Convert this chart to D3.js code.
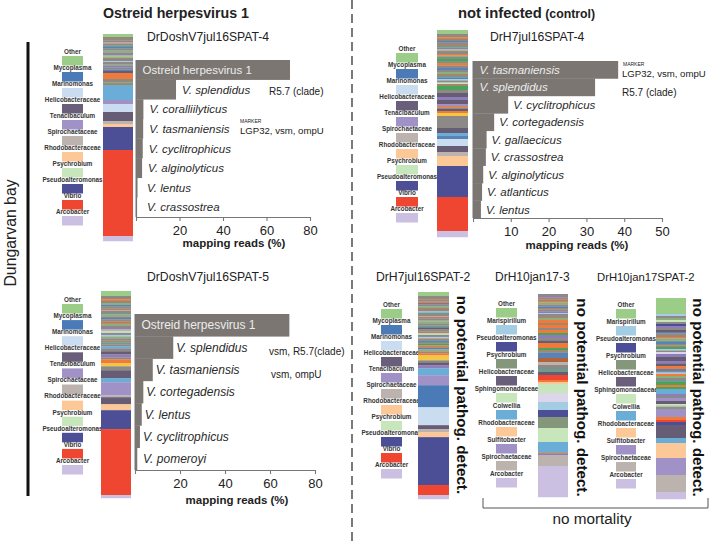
<!DOCTYPE html>
<html><head><meta charset="utf-8">
<script src="https://cdn.jsdelivr.net/npm/d3@7"></script>
<style>body{margin:0;background:#fff}svg{display:block}</style>
</head><body>
<svg id="c" width="709" height="544"></svg>
<script>
// ---------------- DATA ----------------
const p1Species = ["Ostreid herpesvirus 1","V. splendidus","V. coralliilyticus","V. tasmaniensis","V. cyclitrophicus","V. alginolyticus","V. lentus","V. crassostrea"];
const p1Reads = [70.8, 18.4, 3.4, 3.3, 3.1, 2.8, 0.7, 0.5];
const p2Species = ["V. tasmaniensis","V. splendidus","V. cyclitrophicus","V. cortegadensis","V. gallaecicus","V. crassostrea","V. alginolyticus","V. atlanticus","V. lentus"];
const p2Reads = [38.4, 32.3, 9.3, 5.6, 3.6, 3.4, 2.7, 2.4, 2.1];
const p3Species = ["Ostreid herpesvirus 1","V. splendidus","V. tasmaniensis","V. cortegadensis","V. lentus","V. cyclitrophicus","V. pomeroyi"];
const p3Reads = [68.6, 17.0, 7.9, 3.7, 3.0, 2.2, 1.0];
const ticks80 = [0, 20, 40, 60, 80];
const ticks50 = [0, 10, 20, 30, 40, 50];

const legendA = ["Other","Mycoplasma","Marinomonas","Helicobacteraceae","Tenacibaculum","Spirochaetaceae","Rhodobacteraceae","Psychrobium","Pseudoalteromonas","Vibrio","Arcobacter"];
const legendAColors = ["#9ccd88","#4b7bb6","#c9dcf0","#6a5f7b","#a092c6","#bcb3ae","#fdc898","#c8e6bb","#4c4e96","#ee4630","#cbc0e2"];
const legendB = ["Other","Marispirillum","Pseudoalteromonas","Psychrobium","Helicobacteraceae","Sphingomonadaceae","Colwellia","Rhodobacteraceae","Sulfitobacter","Spirochaetaceae","Arcobacter"];
const legendBColors = ["#9ccd88","#a3cde3","#4c4e96","#84977a","#6a5f7b","#c8e6bb","#6aaed8","#fdc898","#a092c6","#bcb3ae","#cbc0e2"];

// stacked community bars (top to bottom): colour keys and relative abundances
const bar1Keys = ["G","s","n","s","h","s","t","b","s","g","s","p","G","n","s","l","s","g","p","s","b","k","o","s","g","n","c","m","w","k","q","f","u","r","v"];
const bar1Vals = [3,2,1.5,2,1,2,1.5,1.5,2,2,1.5,1.5,2,1.5,2,1,2,1.5,2,2,1.5,2,6,3,1,2,15,4,8,9,3,3,23,86,5];
const bar2Keys = ["G","s","n","o","s","b","s","n","t","s","l","n","s","o","g","s","d","t","o","s","b","s","g","n","t","b","l","s","e","n","d","d","s","k","p","k","m","o","s","k","o","y","s","k","c","b","w","k","q","f","u","r","v"];
const bar2Vals = [4,2,1.5,1.5,2,1.5,1.5,2,1.5,2,1,1.5,2,1.5,1.5,2,2,2,2.5,2.5,2,2,2,2,1.5,1.5,1.5,2,1.5,2,2,2,3,4,3,4,2,1.5,1.5,2,2,3,12,5,3,3,7,6,4,10,31,34,6];
const bar3Keys = ["G","s","n","o","s","g","b","s","n","h","s","t","g","s","b","n","s","o","g","s","p","q","e","s","l","g","s","n","t","s","c","s","k","p","s","o","y","s","k","c","m","q","k","f","u","r","v"];
const bar3Vals = [5,2,1.5,1.5,2,2,1.5,2,1.5,1,2,1.5,2,1.5,1.5,2,1.5,1,2,2,1.5,2,1.5,2,1.5,2,2,2,2,2,2,3,3,3,2,4,3,4,8,4,13,2,7,6,19,66,3];
const bar4Keys = ["G","s","n","s","o","b","s","g","n","s","l","t","s","h","n","s","g","g","s","t","k","s","n","e","s","l","n","b","s","d","o","b","g","n","o","y","s","k","p","c","m","M","w","k","q","f","u","r","v"];
const bar4Vals = [4,2,1.5,2,1.5,1.5,2,1.5,2,1.5,1,1.5,2,1,1.5,2,1,2,2,2,2,2,2,1.5,2,1.5,2,1.5,1.5,2,2,2,2,2,2,5,2.5,2.5,3,7,10,22,18,4,3,5,48,10,4];
const bar5Keys = ["s","p","n","s","o","g","s","b","n","s","p","l","s","n","g","o","n","o","s","o","d","p","s","k","o","d","n","b","b","R","q","s","t","k","r","o","f","e","x","a","u","z","e","c","o","p","q","v"];
const bar5Vals = [2,1.5,2,1.5,1.5,2,2,1.5,1.5,2,1.5,1,2,2,2,3,2,3,2,3,2,3,2.5,2.5,5,2,2.5,2.5,3,4,3,4,3,3,5,2,2,9,9,8,7,11,14,11,1,1,11,31];
const bar6Keys = ["G","l","s","g","e","s","u","p","s","k","b","n","s","o","g","t","b","s","n","d","l","s","x","p","k","p","k","o","b","s","l","o","g","s","t","d","o","d","c","p","s","m","k","e","q","z","m","o","r","u","k","c","f","m","q","v"];
const bar6Vals = [16,2,2,2,2,2,2,2,2,2,1.5,1.5,2,1.5,2,1.5,2,1.5,1.5,2,1.5,1.5,2,3,4,2.5,2.5,3,2,1.5,1.5,2,2,2,2,3,2,2,5,2,2,3,3,1.5,1.5,2,8,3,2,3,13,5,15,17,17,7];

// ---------------- STYLE ----------------
const palette = {
  G:"#9ccd88", g:"#8fae80", d:"#4aa35a", s:"#8d8986", n:"#a2866e", o:"#f07a3a",
  b:"#5b82b5", l:"#a8cbe8", c:"#6aaed8", p:"#8e7db8", k:"#665d74", t:"#6f9a8e",
  y:"#f4c645", r:"#ee4630", q:"#bcb3ae", f:"#fdc898", w:"#c9dcf0", u:"#4c4e96",
  v:"#cbc0e2", m:"#a092c6", e:"#c8e6bb", z:"#84977a", h:"#d9a3a0", x:"#dcd6ea",
  a:"#a3cde3", M:"#4b7bb6", R:"#b0643c"
};
const FONT = "'Liberation Sans', Arial, Helvetica, sans-serif";
const BARC = "#7b7672";
const svg = d3.select("#c").style("font-family", FONT);

// ---------------- HELPERS ----------------
function legend(names, colors, x, y0, step, w) {
  const g = svg.append("g");
  const it = g.selectAll("g").data(names).join("g")
    .attr("transform", (d, i) => `translate(${x},${y0 + i * step})`);
  it.append("rect").attr("width", w).attr("height", 9.5)
    .attr("fill", (d, i) => colors[i]);
  it.append("text").attr("x", w / 2).attr("y", -2.2).attr("text-anchor", "middle")
    .attr("font-size", 6.3).attr("font-weight", "bold").attr("fill", "#333")
    .text(d => d);
}
function stackBar(keys, vals, x, w, y0, y1) {
  const cum = d3.cumsum(vals);
  const y = d3.scaleLinear().domain([0, cum[cum.length - 1]]).range([y0, y1]);
  const segs = vals.map((v, i) => ({k: keys[i], s: cum[i] - v, e: cum[i]}));
  svg.append("g").selectAll("rect").data(segs).join("rect")
    .attr("x", x).attr("width", w)
    .attr("y", d => y(d.s)).attr("height", d => y(d.e) - y(d.s) + 0.25)
    .attr("fill", d => palette[d.k]);
}
function barPanel(species, reads, o) {
  const g = svg.append("g");
  const x = d3.scaleLinear().domain([0, o.max]).range([o.x0, o.x1]);
  const y = d3.scaleBand().domain(species).range([o.yTop, o.yAxis]).padding(0);
  const data = species.map((s, i) => ({s, v: reads[i]}));
  g.selectAll("rect.bar").data(data).join("rect").attr("class", "bar")
    .attr("x", x(0)).attr("y", d => y(d.s))
    .attr("width", d => x(d.v) - x(0)).attr("height", y.bandwidth() + 0.3)
    .attr("fill", BARC);
  g.append("line").attr("x1", x(0)).attr("x2", x(0))
    .attr("y1", o.yTop).attr("y2", o.yAxis).attr("stroke", "#777").attr("stroke-width", 1);
  const ax = g.append("g").attr("transform", `translate(0,${o.yAxis})`)
    .call(d3.axisBottom(x).tickValues(o.ticks).tickFormat(d => d === 0 ? "" : d)
      .tickSize(4).tickSizeOuter(0).tickPadding(5));
  ax.selectAll("path,line").attr("stroke", "#777").attr("stroke-width", 1.1);
  ax.selectAll("text").attr("font-size", 13).attr("fill", "#222").attr("font-family", FONT);
  g.append("text").attr("x", o.axCx).attr("y", o.axTitleY).attr("text-anchor", "middle")
    .attr("font-size", 11.5).attr("font-weight", "bold").attr("fill", "#222")
    .text("mapping reads (%)");
  g.selectAll("text.sp").data(data).join("text").attr("class", "sp")
    .attr("x", d => (x(d.v) - x(0) > 115) ? x(0) + 6.5 : Math.max(x(d.v), x(0) + 5) + o.gap)
    .attr("y", d => y(d.s) + y.bandwidth() / 2 + 4.3)
    .attr("font-size", o.fs).attr("font-style", d => d.s.startsWith("V.") ? "italic" : "normal")
    .attr("fill", d => (x(d.v) - x(0) > 115) ? "#ececec" : "#2a2a2a")
    .text(d => d.s);
  return y;
}
function txt(x, y, s, fs, extra) {
  const t = svg.append("text").attr("x", x).attr("y", y).attr("font-size", fs)
    .attr("fill", "#222").text(s);
  if (extra) Object.entries(extra).forEach(([k, v]) => t.attr(k, v));
  return t;
}

// ---------------- FRAME ----------------
svg.append("line").attr("x1", 352).attr("x2", 352).attr("y1", 0).attr("y2", 544)
  .attr("stroke", "#333").attr("stroke-width", 1.3).attr("stroke-dasharray", "9,5");
svg.append("line").attr("x1", 28).attr("x2", 28).attr("y1", 42).attr("y2", 496)
  .attr("stroke", "#111").attr("stroke-width", 3);
txt(176, 18, "Ostreid herpesvirus 1", 14.2, {"font-weight": "bold", "text-anchor": "middle"});
const ni = txt(458, 18, "not infected", 14.8, {"font-weight": "bold"});
ni.append("tspan").attr("font-size", 12.3).text(" (control)");
txt(0, 0, "Dungarvan bay", 15.8, {"text-anchor": "middle", "transform": "translate(16,233) rotate(-90)"});

// ---------------- PANEL 1 ----------------
txt(147, 41, "DrDoshV7jul16SPAT-4", 12.2);
legend(legendA, legendAColors, 62, 56, 16, 21);
stackBar(bar1Keys, bar1Vals, 103, 30, 34, 241);
const y1 = barPanel(p1Species, p1Reads, {max: 80, x0: 136, x1: 310, yTop: 60, yAxis: 217,
  ticks: ticks80, axCx: 234, axTitleY: 247, fs: 11.5, gap: 6});
const c1s = y1("V. splendidus") + y1.bandwidth() / 2, c1t = y1("V. tasmaniensis") + y1.bandwidth() / 2;
txt(269, c1s + 5.5, "R5.7 (clade)", 10);
txt(240, c1t - 5.2, "MARKER", 5);
txt(240, c1t + 5, "LGP32, vsm, ompU", 9.6);

// ---------------- PANEL 2 ----------------
txt(490, 41, "DrH7jul16SPAT-4", 12.2);
legend(legendA, legendAColors, 396, 53, 16, 22);
stackBar(bar2Keys, bar2Vals, 437, 31, 30, 237);
const y2 = barPanel(p2Species, p2Reads, {max: 50, x0: 473, x1: 662, yTop: 61, yAxis: 218,
  ticks: ticks50, axCx: 577, axTitleY: 249, fs: 11.5, gap: 5});
const c2t = y2("V. tasmaniensis") + y2.bandwidth() / 2, c2s = y2("V. splendidus") + y2.bandwidth() / 2;
txt(623, c2t - 4, "MARKER", 5);
txt(622, c2t + 7, "LGP32, vsm, ompU", 9.6);
txt(622, c2s + 9, "R5.7 (clade)", 10);

// ---------------- PANEL 3 ----------------
txt(147, 281, "DrDoshV7jul16SPAT-5", 12.2);
legend(legendA, legendAColors, 62, 304, 16.1, 21);
stackBar(bar3Keys, bar3Vals, 101, 30, 291, 498);
const y3 = barPanel(p3Species, p3Reads, {max: 80, x0: 135, x1: 315, yTop: 314, yAxis: 470,
  ticks: ticks80, axCx: 237, axTitleY: 504, fs: 12, gap: 3});
const c3s = y3("V. splendidus") + y3.bandwidth() / 2, c3t = y3("V. tasmaniensis") + y3.bandwidth() / 2;
txt(269, c3s + 8, "vsm, R5.7(clade)", 10);
txt(271, c3t + 8, "vsm, ompU", 10);

// ---------------- PANELS 4-6 ----------------
txt(376, 281, "DrH7jul16SPAT-2", 12.2);
legend(legendA, legendAColors, 381, 309, 16, 21);
stackBar(bar4Keys, bar4Vals, 418, 31, 292, 499);

txt(495, 281, "DrH10jan17-3", 12);
legend(legendB, legendBColors, 496, 308, 17, 21);
stackBar(bar5Keys, bar5Vals, 538, 30, 294, 497);

txt(597, 281, "DrH10jan17SPAT-2", 11.3);
legend(legendB, legendBColors, 616, 309, 17, 20);
stackBar(bar6Keys, bar6Vals, 656, 30, 298, 499);

[[456.5, 395], [576.5, 397.5], [693, 397.5]].forEach(([x, y]) => {
  txt(0, 0, "no potential pathog. detect.", 15.2, {"font-weight": "bold", "text-anchor": "middle",
    "transform": `translate(${x},${y}) rotate(90)`, "fill": "#111"});
});
svg.append("path").attr("d", "M483,498V508H708V498").attr("fill", "none")
  .attr("stroke", "#555").attr("stroke-width", 1);
txt(592, 524, "no mortality", 15.3, {"text-anchor": "middle"});
</script>
</body></html>
